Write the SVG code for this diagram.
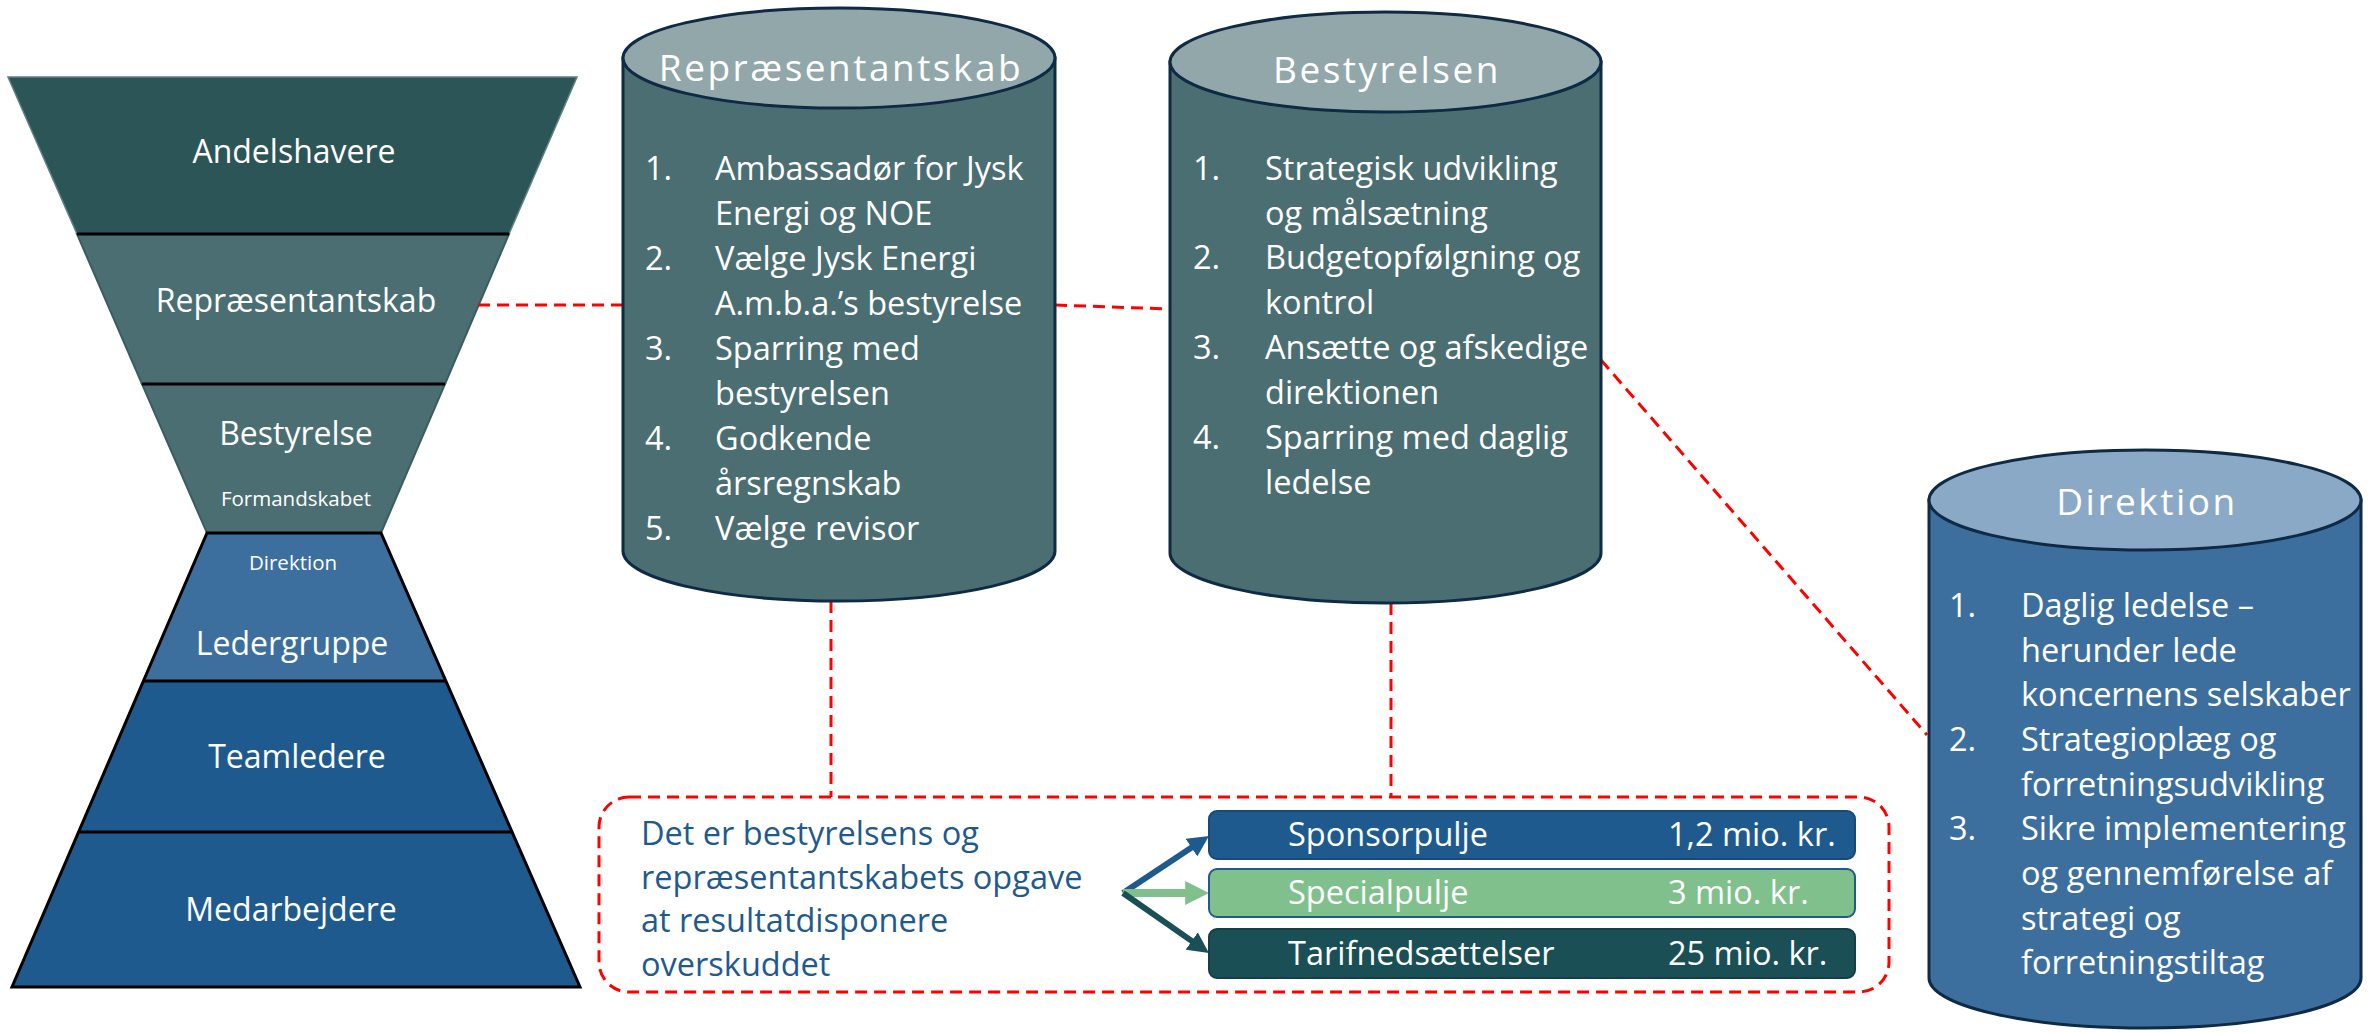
<svg xmlns="http://www.w3.org/2000/svg" width="2368" height="1033" viewBox="0 0 2368 1033">
<defs>
<style>
text{font-family:"Open Sans","Noto Sans","DejaVu Sans",sans-serif;fill:#fff}
.lbl{font-size:32px;text-anchor:middle}
.sm{font-size:20.5px;text-anchor:middle}
.ttl{font-size:37px;letter-spacing:2.5px;text-anchor:middle}
.li{font-size:32.5px}
.bt{font-size:32.5px;fill:#1F5A8E}
.pt{font-size:32.5px}
.conn{stroke:#FF0000;stroke-width:3;stroke-dasharray:12 7;fill:none}
.cyl{stroke:#0E2A44;stroke-width:3}
.div{stroke:#000;stroke-width:3}
</style>
<marker id="hb" viewBox="0 0 10 10" refX="2" refY="5" markerWidth="3.5" markerHeight="3.5" orient="auto"><path d="M0,0 L10,5 L0,10 z" fill="#1E5A8E"/></marker>
<marker id="hg" viewBox="0 0 10 10" refX="2" refY="5" markerWidth="3" markerHeight="3" orient="auto"><path d="M0,0 L10,5 L0,10 z" fill="#80C08C"/></marker>
<marker id="ht" viewBox="0 0 10 10" refX="2" refY="5" markerWidth="3.5" markerHeight="3.5" orient="auto"><path d="M0,0 L10,5 L0,10 z" fill="#1A4F55"/></marker>
</defs>
<rect width="2368" height="1033" fill="#fff"/>

<g id="funnel">
<polygon points="8,77 577,77 509,234 77,234" fill="#2C5557" stroke="#5F8082" stroke-width="1.5"/>
<polygon points="77,234 509,234 445,384 142,384" fill="#4A6E71" stroke="#3A5E60" stroke-width="2"/>
<polygon points="142,384 445,384 381,533 207,533" fill="#4A6E71" stroke="#3A5E60" stroke-width="2"/>
<line class="div" x1="77" y1="234" x2="509" y2="234"/>
<line class="div" x1="142" y1="384" x2="445" y2="384"/>
<text class="lbl" x="294" y="163">Andelshavere</text>
<text class="lbl" x="296" y="312">Repræsentantskab</text>
<text class="lbl" x="296" y="445">Bestyrelse</text>
<text class="sm" x="296" y="506">Formandskabet</text>
</g>

<g id="pyramid">
<polygon points="207,533 381,533 446,681 144,681" fill="#3D6F9E"/>
<polygon points="144,681 446,681 512,832 79,832" fill="#1E5A8E"/>
<polygon points="79,832 512,832 580,987 12,987" fill="#1E5A8E"/>
<polygon points="207,533 381,533 580,987 12,987" fill="none" stroke="#000" stroke-width="3" stroke-linejoin="miter"/>
<line class="div" x1="144" y1="681" x2="446" y2="681"/>
<line class="div" x1="79" y1="832" x2="512" y2="832"/>
<text class="sm" x="293" y="570">Direktion</text>
<text class="lbl" x="292" y="655">Ledergruppe</text>
<text class="lbl" x="297" y="768">Teamledere</text>
<text class="lbl" x="291" y="921">Medarbejdere</text>
</g>

<g id="connectors">
<line class="conn" x1="478" y1="305" x2="623" y2="305"/>
<line class="conn" x1="1055" y1="305" x2="1170" y2="309"/>
<line class="conn" x1="1601" y1="360" x2="1927" y2="735"/>
<line class="conn" x1="831" y1="601" x2="831" y2="797"/>
<line class="conn" x1="1391" y1="603" x2="1391" y2="797"/>
<line x1="1123" y1="893" x2="1195" y2="845.3" stroke="#1E5A8E" stroke-width="6" marker-end="url(#hb)"/>
<line x1="1123" y1="893" x2="1190" y2="893" stroke="#80C08C" stroke-width="8" marker-end="url(#hg)"/>
<line x1="1123" y1="893" x2="1195.2" y2="943.4" stroke="#1A4F55" stroke-width="6" marker-end="url(#ht)"/>
</g>

<g id="repraesentantskab">
<path class="cyl" d="M623,58 L623,551 A216,50 0 0 0 1055,551 L1055,58 Z" fill="#4A6E71"/>
<ellipse class="cyl" cx="839" cy="58" rx="216" ry="50" fill="#91A7A9"/>
<text class="ttl" x="841" y="81">Repræsentantskab</text>
<text class="li" x="645" y="180">1.</text><text class="li" x="715" y="180">Ambassadør for Jysk</text>
<text class="li" x="715" y="225">Energi og NOE</text>
<text class="li" x="645" y="270">2.</text><text class="li" x="715" y="270">Vælge Jysk Energi</text>
<text class="li" x="715" y="315">A.m.b.a.’s bestyrelse</text>
<text class="li" x="645" y="360">3.</text><text class="li" x="715" y="360">Sparring med</text>
<text class="li" x="715" y="405">bestyrelsen</text>
<text class="li" x="645" y="450">4.</text><text class="li" x="715" y="450">Godkende</text>
<text class="li" x="715" y="495">årsregnskab</text>
<text class="li" x="645" y="540">5.</text><text class="li" x="715" y="540">Vælge revisor</text>
</g>

<g id="bestyrelsen">
<path class="cyl" d="M1170,62 L1170,553 A215.5,50 0 0 0 1601,553 L1601,62 Z" fill="#4A6E71"/>
<ellipse class="cyl" cx="1385.5" cy="62" rx="215.5" ry="50" fill="#91A7A9"/>
<text class="ttl" x="1387" y="83">Bestyrelsen</text>
<text class="li" x="1193" y="180">1.</text><text class="li" x="1265" y="180">Strategisk udvikling</text>
<text class="li" x="1265" y="225">og målsætning</text>
<text class="li" x="1193" y="269">2.</text><text class="li" x="1265" y="269">Budgetopfølgning og</text>
<text class="li" x="1265" y="314">kontrol</text>
<text class="li" x="1193" y="359">3.</text><text class="li" x="1265" y="359">Ansætte og afskedige</text>
<text class="li" x="1265" y="404">direktionen</text>
<text class="li" x="1193" y="449">4.</text><text class="li" x="1265" y="449">Sparring med daglig</text>
<text class="li" x="1265" y="494">ledelse</text>
</g>

<g id="direktion">
<path class="cyl" d="M1929,500 L1929,978 A216,50 0 0 0 2361,978 L2361,500 Z" fill="#3D6F9E"/>
<ellipse class="cyl" cx="2145" cy="500" rx="216" ry="50" fill="#8AA9C6"/>
<text class="ttl" x="2147" y="515">Direktion</text>
<text class="li" x="1949" y="617">1.</text><text class="li" x="2021" y="617">Daglig ledelse –</text>
<text class="li" x="2021" y="662">herunder lede</text>
<text class="li" x="2021" y="706">koncernens selskaber</text>
<text class="li" x="1949" y="751">2.</text><text class="li" x="2021" y="751">Strategioplæg og</text>
<text class="li" x="2021" y="796">forretningsudvikling</text>
<text class="li" x="1949" y="840">3.</text><text class="li" x="2021" y="840">Sikre implementering</text>
<text class="li" x="2021" y="885">og gennemførelse af</text>
<text class="li" x="2021" y="930">strategi og</text>
<text class="li" x="2021" y="974">forretningstiltag</text>
</g>

<g id="resultat">
<rect class="conn" x="599" y="797" width="1290" height="195" rx="30"/>
<text class="bt" x="641" y="845">Det er bestyrelsens og</text>
<text class="bt" x="641" y="888.5">repræsentantskabets opgave</text>
<text class="bt" x="641" y="932">at resultatdisponere</text>
<text class="bt" x="641" y="975.5">overskuddet</text>
</g>

<g id="sponsorpulje">
<rect x="1209" y="811" width="646" height="48" rx="8" fill="#1E5A8E" stroke="#174A75" stroke-width="2"/>
<text class="pt" x="1288" y="846">Sponsorpulje</text>
<text class="pt" x="1668" y="846">1,2 mio. kr.</text>
</g>
<g id="specialpulje">
<rect x="1209" y="869" width="646" height="48" rx="8" fill="#80C08C" stroke="#1E5A8E" stroke-width="2"/>
<text class="pt" x="1288" y="904">Specialpulje</text>
<text class="pt" x="1668" y="904">3 mio. kr.</text>
</g>
<g id="tarifnedsaettelser">
<rect x="1209" y="929" width="646" height="49" rx="8" fill="#1A4F55" stroke="#153F44" stroke-width="2"/>
<text class="pt" x="1288" y="965">Tarifnedsættelser</text>
<text class="pt" x="1668" y="965">25 mio. kr.</text>
</g>
</svg>
